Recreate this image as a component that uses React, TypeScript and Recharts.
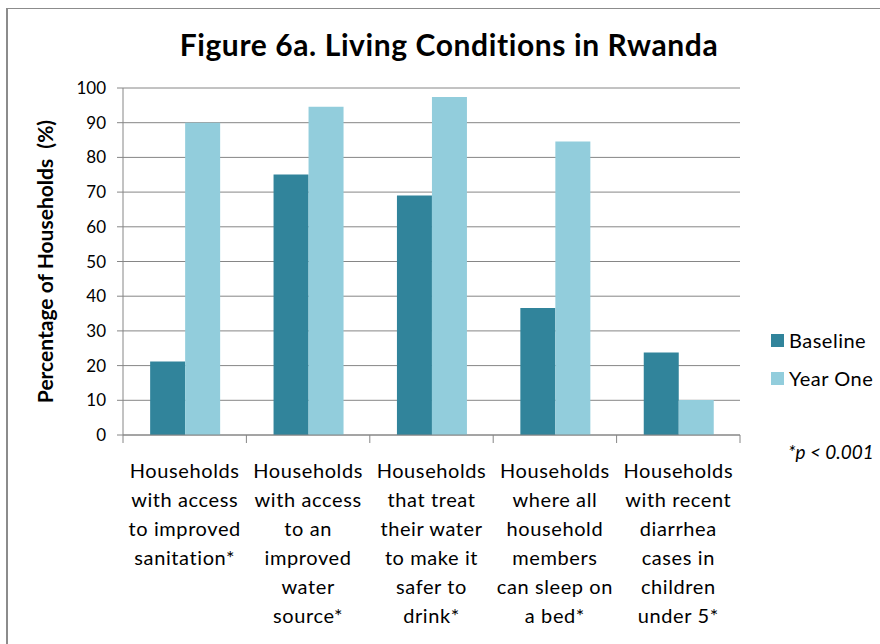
import React from 'react'
import { BarChart, Bar, XAxis, YAxis, CartesianGrid, Legend } from 'recharts'

const categories = [
  ['Households', 'with access', 'to improved', 'sanitation*'],
  ['Households', 'with access', 'to an', 'improved', 'water', 'source*'],
  ['Households', 'that treat', 'their water', 'to make it', 'safer to', 'drink*'],
  ['Households', 'where all', 'household', 'members', 'can sleep on', 'a bed*'],
  ['Households', 'with recent', 'diarrhea', 'cases in', 'children', 'under 5*'],
]
const baseline = [21.2, 75.1, 69.0, 36.6, 23.8]
const yearOne = [90.0, 94.6, 97.4, 84.6, 10.1]
const yTicks = [0, 10, 20, 30, 40, 50, 60, 70, 80, 90, 100]

const data = categories.map((lines, i) => ({
  name: lines.join(' '),
  baseline: baseline[i],
  yearOne: yearOne[i],
}))

const FONT = 'Lato, "Open Sans", sans-serif'
const PLOT_LEFT = 123
const PLOT_RIGHT = 740
const BAND = (PLOT_RIGHT - PLOT_LEFT) / categories.length

function CategoryTick(props: any) {
  const { x, y, index } = props
  const lines = categories[index] || []
  return (
    <g>
      <line x1={x - BAND / 2} x2={x - BAND / 2} y1={y - 8} y2={y} stroke="#868686" />
      {index === categories.length - 1 && (
        <line x1={x + BAND / 2} x2={x + BAND / 2} y1={y - 8} y2={y} stroke="#868686" />
      )}
      <text x={x} y={y + 35} textAnchor="middle" fontSize={20} letterSpacing={0.6} fill="#000" fontFamily={FONT}>
        {lines.map((l, i) => (
          <tspan key={i} x={x} dy={i === 0 ? 0 : 29}>
            {l}
          </tspan>
        ))}
      </text>
    </g>
  )
}

function LegendList(props: any) {
  const { payload } = props
  return (
    <div style={{ fontFamily: FONT, fontSize: 20, letterSpacing: 0.5, color: '#000' }}>
      {(payload || []).map((p: any) => (
        <div key={p.value} style={{ display: 'flex', alignItems: 'center', height: 38 }}>
          <span style={{ display: 'inline-block', width: 13, height: 13, background: p.color, marginRight: 5 }} />
          {p.value}
        </div>
      ))}
    </div>
  )
}

export default function App() {
  return (
    <div style={{ position: 'absolute', left: 0, top: 0, width: 880, height: 644, overflow: 'hidden', background: '#fff' }}>
      <div
        style={{
          position: 'absolute',
          left: 6,
          top: 8,
          width: 1000,
          height: 1000,
          borderLeft: '2px solid #8c8c8c',
          borderTop: '1px solid #8c8c8c',
        }}
      />
      <div
        style={{
          position: 'absolute',
          left: 0,
          width: 898,
          top: 26,
          textAlign: 'center',
          fontFamily: FONT,
          fontWeight: 700,
          fontSize: 30,
          letterSpacing: 0.6,
          color: '#000',
        }}
      >
        Figure 6a. Living Conditions in Rwanda
      </div>
      <div
        style={{
          position: 'absolute',
          left: 788,
          top: 440,
          fontFamily: FONT,
          fontStyle: 'italic',
          fontSize: 19,
          color: '#000',
          whiteSpace: 'nowrap',
        }}
      >
        *p &lt; 0.001
      </div>
      <BarChart
        width={880}
        height={644}
        data={data}
        margin={{ top: 88, right: 880 - PLOT_RIGHT, bottom: 9, left: 8 }}
        barCategoryGap="22%"
        barGap={0}
      >
        <CartesianGrid vertical={false} stroke="#868686" />
        <XAxis
          dataKey="name"
          height={200}
          interval={0}
          stroke="#868686"
          tickLine={false}
          tick={<CategoryTick />}
        />
        <YAxis
          domain={[0, 100]}
          ticks={yTicks}
          interval={0}
          width={PLOT_LEFT - 8}
          stroke="#868686"
          tickSize={6}
          tickMargin={11}
          tick={{ fill: '#000', fontSize: 17, fontFamily: FONT }}
          label={{
            value: 'Percentage of Households\u00A0\u00A0(%)',
            angle: -90,
            position: 'insideLeft',
            offset: 38,
            style: { textAnchor: 'middle', fontFamily: FONT, fontWeight: 700, fontSize: 21, fill: '#000' },
          }}
        />
        <Legend
          layout="horizontal"
          verticalAlign="middle"
          align="center"
          content={<LegendList />}
          wrapperStyle={{ position: 'absolute', left: 771, top: 321, width: 120 }}
        />
        <Bar dataKey="baseline" name="Baseline" fill="#31849B" isAnimationActive={false} />
        <Bar dataKey="yearOne" name="Year One" fill="#92CDDC" isAnimationActive={false} />
      </BarChart>
    </div>
  )
}
